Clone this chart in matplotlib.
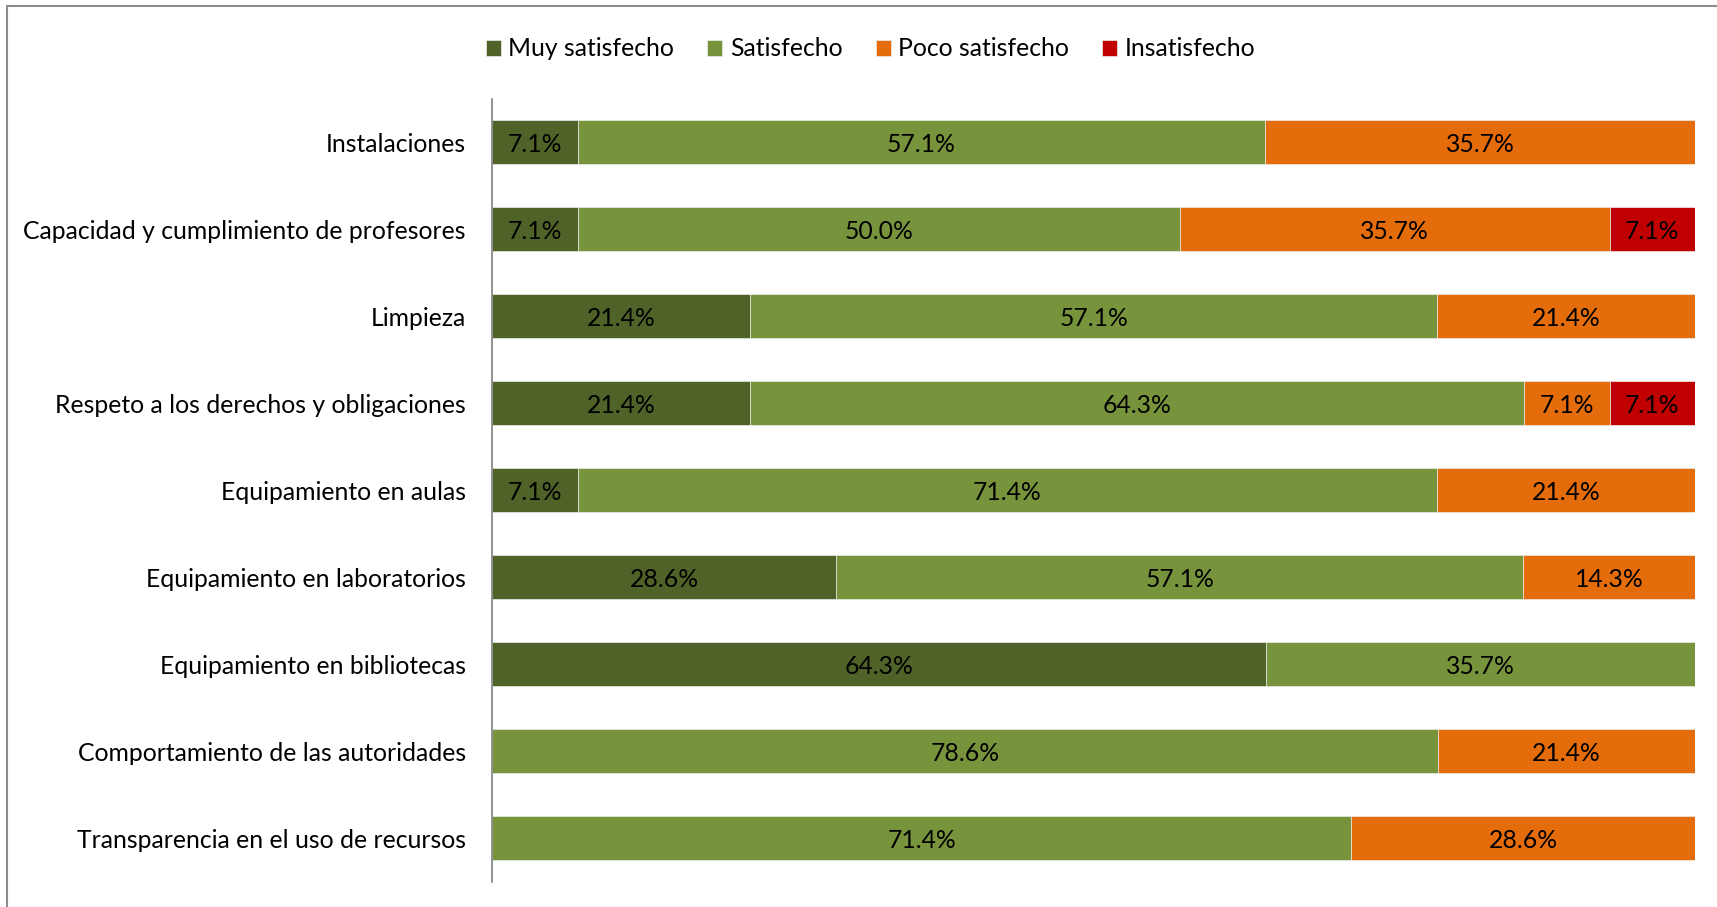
import matplotlib
matplotlib.use("Agg")
import matplotlib.pyplot as plt
from matplotlib.patches import Rectangle
import numpy as np

plt.rcParams['font.family'] = ['Lato', 'DejaVu Sans']

categorias = [
    "Instalaciones",
    "Capacidad y cumplimiento de profesores",
    "Limpieza",
    "Respeto a los derechos y obligaciones",
    "Equipamiento en aulas",
    "Equipamiento en laboratorios",
    "Equipamiento en bibliotecas",
    "Comportamiento de las autoridades",
    "Transparencia en el uso de recursos",
]

series = ["Muy satisfecho", "Satisfecho", "Poco satisfecho", "Insatisfecho"]
colores = ["#4F6228", "#77933C", "#E46C0A", "#C00000"]

muy_satisfecho = [7.1, 7.1, 21.4, 21.4, 7.1, 28.6, 64.3, 0.0, 0.0]
satisfecho = [57.1, 50.0, 57.1, 64.3, 71.4, 57.1, 35.7, 78.6, 71.4]
poco_satisfecho = [35.7, 35.7, 21.4, 7.1, 21.4, 14.3, 0.0, 21.4, 28.6]
insatisfecho = [0.0, 7.1, 0.0, 7.1, 0.0, 0.0, 0.0, 0.0, 0.0]

valores = np.array([muy_satisfecho, satisfecho, poco_satisfecho, insatisfecho])
# barras al 100%: cada fila se normaliza a su total
totales = valores.sum(axis=0)
anchos = valores / totales * 100

fs = 17.8

fig = plt.figure(figsize=(17.17, 9.07), dpi=100)
ax = fig.add_axes([0.2866, 0.0276, 0.7006, 0.8635])

y = np.arange(len(categorias))
izq = np.zeros(len(categorias))
for i, nombre in enumerate(series):
    barras = ax.barh(y, anchos[i], left=izq, height=0.505, color=colores[i],
                     edgecolor="#ececec", linewidth=0.5, label=nombre)
    etiquetas = [f"{v:.1f}%" if v > 0 else "" for v in valores[i]]
    textos = ax.bar_label(barras, labels=etiquetas, label_type="center",
                          fontsize=fs, color="black")
    for t in textos:
        t.xyann = (0, -1.5)
    izq += anchos[i]

ax.set_xlim(0, 100)
ax.set_ylim(len(categorias) - 0.5, -0.5)
ax.set_yticks(y)
ax.set_yticklabels(categorias, fontsize=fs)
ax.tick_params(axis="y", length=0, pad=19)
ax.set_xticks([])
for lado in ["top", "right", "bottom"]:
    ax.spines[lado].set_visible(False)
ax.spines["left"].set_color("#808080")
ax.spines["left"].set_linewidth(1.2)

fig.legend(loc="center", bbox_to_anchor=(0.507, 0.946), ncol=4, frameon=False,
           fontsize=fs, handlelength=0.6, handleheight=0.6, handletextpad=0.3,
           columnspacing=1.35)

# marco gris del gráfico
fig.patches.append(Rectangle((7 / 1717, -0.05), 1.05, 1 - 6 / 907 + 0.05,
                             transform=fig.transFigure, fill=False,
                             edgecolor="#8c8c8c", linewidth=1.5))

fig.savefig("out.png", dpi=100)
